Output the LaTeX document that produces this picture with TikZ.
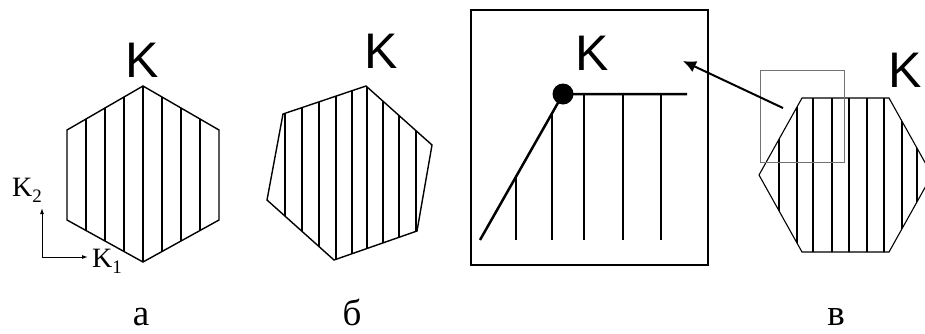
\documentclass[tikz,border=0pt]{standalone}
\usepackage{fontspec}
\setmainfont{Liberation Serif}
\newfontfamily\kfont{Liberation Sans}
\usetikzlibrary{arrows.meta}
\tikzset{
  bigK/.style={inner sep=0pt,anchor=base,font=\kfont\fontsize{50}{52}\selectfont},
  caption/.style={inner sep=0pt,anchor=base,text depth=0pt,font=\fontsize{37}{40}\selectfont},
  axlabel/.style={inner sep=0pt,anchor=base west,font=\fontsize{28}{30}\selectfont},
  edge/.style={line width=1.4pt,line join=miter},
  hatch/.style={line width=1.3pt},
  thick inset/.style={line width=2.5pt},
  thin edge/.style={line width=1.1pt},
}
\newcommand{\subnum}[1]{\raisebox{-0.22em}{\fontsize{19}{20}\selectfont #1}}
\begin{document}
\begin{tikzpicture}[x=1pt,y=-1pt]
\useasboundingbox (0,0) rectangle (925,333);
\begin{scope}
\clip (0,0) rectangle (925,333);

% ---------- panel a ----------
\node[bigK] (Ka) at (142,77) {K};
\begin{scope}
  \clip (143,86) -- (219,130) -- (219,220) -- (143,262) -- (67,220) -- (67,130) -- cycle;
  \foreach \x in {86,105,124,143,162,181,200} \draw[hatch] (\x,80) -- (\x,270);
\end{scope}
\draw[edge] (143,86) -- (219,130) -- (219,220) -- (143,262) -- (67,220) -- (67,130) -- cycle;
\coordinate (O) at (42,257);
\coordinate (Y) at (42,208);
\coordinate (X) at (88,257);
\draw[line width=1pt,-{Latex[length=6pt,width=4pt]}] (O) -- (Y);
\draw[line width=1pt,-{Latex[length=6pt,width=4pt]}] (O) -- (X);
\node[axlabel] (K2) at (12,196) {K\subnum{2}};
\node[axlabel] (K1) at (92,267) {K\subnum{1}};
\node[caption] (la) at (141,325) {а};

% ---------- panel b ----------
\node[bigK] (Kb) at (381,68) {K};
\begin{scope}
  \clip (366,86) -- (432,145) -- (417,231) -- (334,260) -- (267,200) -- (283,114) -- cycle;
  \foreach \x in {285,302,319,336,352,367,383,399,416} \draw[hatch] (\x,80) -- (\x,270);
\end{scope}
\draw[edge] (366,86) -- (432,145) -- (417,231) -- (334,260) -- (267,200) -- (283,114) -- cycle;
\node[caption] (lb) at (352,325) {б};

% ---------- panel v: inset ----------
\draw[line width=2.2pt] (471,10) rectangle (708,265);
\node[bigK] (Ki) at (592,70) {K};
\coordinate (D) at (563,94);
\coordinate (S) at (480,240);
\coordinate (E) at (687,94);
\begin{scope}
  \clip (S) -- (D) -- (700,94) -- (700,240) -- cycle;
  \foreach \x in {516,552,584,623,661} \draw[thick inset] (\x,80) -- (\x,240);
\end{scope}
\draw[thick inset] (S) -- (D) -- (E);
\fill (D) circle (10.5);

% ---------- panel v: hexagon ----------
\node[bigK] (Kv) at (905,87) {K};
\begin{scope}
  \clip (802,98) -- (889,98) -- (932,175) -- (889,252) -- (802,252) -- (759,175) -- cycle;
  \foreach \x in {779,797,813,832,849,867,884,902,917} \draw[thin edge] (\x,90) -- (\x,260);
\end{scope}
\draw[thin edge] (802,98) -- (889,98) -- (932,175) -- (889,252) -- (802,252) -- (759,175) -- cycle;
\draw[line width=1pt,draw=black!55] (760,70) rectangle (844,162);
\coordinate (At) at (783,108);
\coordinate (Ah) at (683,61);
\draw[line width=2pt,-{Latex[length=13pt,width=12pt]}] (At) -- (Ah);
\node[caption] (lv) at (836,325) {в};
\end{scope}
\end{tikzpicture}
\end{document}
